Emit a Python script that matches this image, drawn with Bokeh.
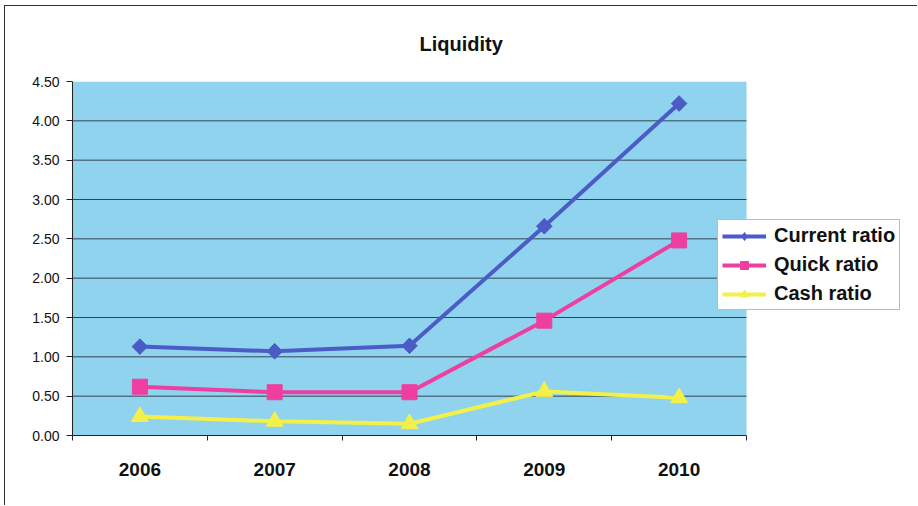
import math
from bokeh.plotting import figure
from bokeh.models import (Range1d, Legend, LegendItem, FixedTicker,
                          NumeralTickFormatter, BoxAnnotation)
from bokeh.embed import file_html
from bokeh.resources import INLINE

years = ["2006", "2007", "2008", "2009", "2010"]
current_ratio = [1.13, 1.07, 1.14, 2.66, 4.22]
quick_ratio = [0.62, 0.55, 0.55, 1.46, 2.48]
cash_ratio = [0.24, 0.18, 0.15, 0.56, 0.48]
y_ticks = [0.0, 0.5, 1.0, 1.5, 2.0, 2.5, 3.0, 3.5, 4.0, 4.5]
title_text = "Liquidity"

FONT = "Liberation Sans"

n = len(years)
xs = [i + 0.5 for i in range(n)]          # category centres
bounds = list(range(n + 1))               # category boundaries
unit = 674 / n                            # pixels per category
x_end = 846 / unit                        # frame extends under the legend

p = figure(width=913, height=500, x_range=Range1d(0, x_end), y_range=Range1d(0, 4.5),
           output_backend="svg", toolbar_location=None,
           min_border_left=67, min_border_right=0, min_border_top=75, min_border_bottom=71)
p.margin = (5, 0, 0, 4)
p.styles = {"border-left": "1px solid #333333", "border-top": "1px solid #333333"}

p.background_fill_color = "white"
p.border_fill_color = "white"
p.outline_line_color = None

p.title.text = title_text
p.title.text_font = FONT
p.title.text_font_size = "20px"
p.title.text_font_style = "bold"
p.title.text_color = "#111111"
p.title.align = "left"
p.title.offset = 347
p.title.vertical_align = "top"
p.title.standoff = 50

# plot area background (covers the 5 categories only)
area = BoxAnnotation(left=0, right=n, bottom=0, top=4.5, fill_color="#8fd3ee", fill_alpha=1,
                     line_color=None, level="underlay")
p.add_layout(area)

p.xgrid.grid_line_color = None
p.ygrid.grid_line_color = None
grid_vals = y_ticks[1:-1]
p.segment(x0=[0] * len(grid_vals), x1=[n] * len(grid_vals), y0=grid_vals, y1=grid_vals,
          line_color="#34444f", line_width=1)

p.yaxis.ticker = FixedTicker(ticks=y_ticks)
p.yaxis.formatter = NumeralTickFormatter(format="0.00")
p.yaxis.major_label_text_font = FONT
p.yaxis.major_label_text_font_size = "14px"
p.yaxis.major_label_text_color = "#111111"
p.yaxis.axis_line_color = "#222222"
p.yaxis.major_tick_line_color = "#222222"
p.yaxis.major_tick_out = 6
p.yaxis.major_tick_in = 0
p.yaxis.minor_tick_line_color = None
p.yaxis.major_label_standoff = 7

bottom_axis = p.below[0]
bottom_axis.ticker = FixedTicker(ticks=xs, minor_ticks=bounds)
bottom_axis.major_label_overrides = {x: y for x, y in zip(xs, years)}
bottom_axis.bounds = (0, n)
bottom_axis.major_label_text_font = FONT
bottom_axis.major_label_text_font_size = "19px"
bottom_axis.major_label_text_font_style = "bold"
bottom_axis.major_label_text_color = "#111111"
bottom_axis.axis_line_color = "#222222"
bottom_axis.major_tick_line_color = None
bottom_axis.minor_tick_line_color = "#222222"
bottom_axis.minor_tick_out = 5
bottom_axis.minor_tick_in = 0
bottom_axis.major_label_standoff = 21

blue = "#4b5cc6"
pink = "#ee3fa0"
yellow = "#f4f04a"

r1 = p.line(xs, current_ratio, line_color=blue, line_width=4)
m1 = p.scatter(xs, current_ratio, marker="square", angle=math.pi / 4, size=11,
               fill_color=blue, line_color=blue)
d1 = p.scatter(xs, current_ratio, marker="diamond", size=15, fill_color=blue, line_color=blue)
r2 = p.line(xs, quick_ratio, line_color=pink, line_width=4)
m2 = p.scatter(xs, quick_ratio, marker="square", size=15, fill_color=pink, line_color=pink)
r3 = p.line(xs, cash_ratio, line_color=yellow, line_width=4)
m3 = p.scatter(xs, cash_ratio, marker="triangle", size=17, fill_color=yellow, line_color=yellow)

legend = Legend(items=[
    LegendItem(label="Current ratio", renderers=[r1, d1]),
    LegendItem(label="Quick ratio", renderers=[r2, m2]),
    LegendItem(label="Cash ratio", renderers=[r3, m3]),
], location=(645, 125))
legend.label_text_font = FONT
legend.label_text_font_size = "20px"
legend.label_text_font_style = "bold"
legend.label_text_color = "#111111"
legend.glyph_width = 44
legend.glyph_height = 20
legend.label_height = 20
legend.label_standoff = 8
legend.spacing = 6
legend.padding = 4
legend.margin = 0
legend.border_line_color = "#777777"
legend.background_fill_color = "white"
legend.background_fill_alpha = 1
p.add_layout(legend)

open("out.html", "w").write(file_html(p, INLINE))
